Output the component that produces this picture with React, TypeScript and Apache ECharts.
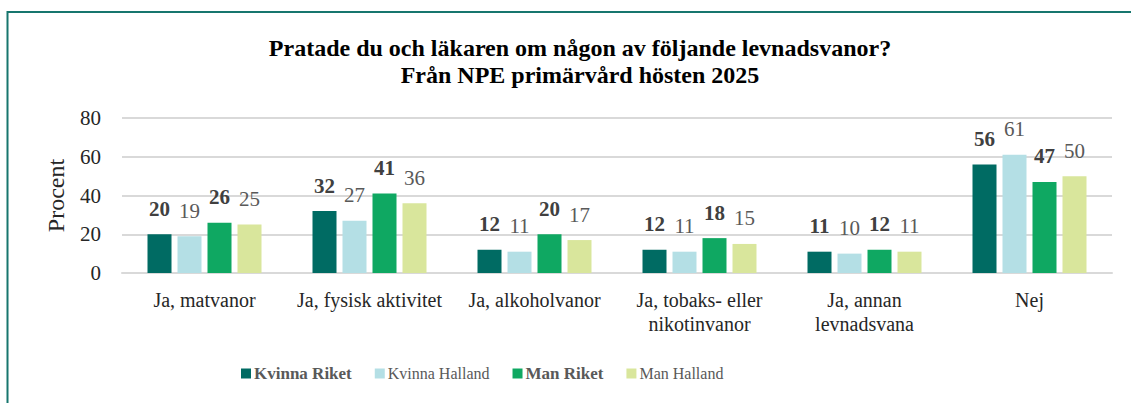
import React, { useEffect, useRef } from "react";
import * as echarts from "echarts";

const categories = [
  "Ja, matvanor",
  "Ja, fysisk aktivitet",
  "Ja, alkoholvanor",
  "Ja, tobaks- eller\nnikotinvanor",
  "Ja, annan\nlevnadsvana",
  "Nej",
];
const kvinnaRiket = [20, 32, 12, 12, 11, 56];
const kvinnaHalland = [19, 27, 11, 11, 10, 61];
const manRiket = [26, 41, 20, 18, 12, 47];
const manHalland = [25, 36, 17, 15, 11, 50];
const yTicks = { min: 0, max: 80, interval: 20 };

const FONT = "Liberation Serif";

export default function App() {
  const ref = useRef<HTMLDivElement>(null);
  useEffect(() => {
    if (!ref.current) return;
    const chart = echarts.init(ref.current, undefined, { renderer: "svg" });
    const mk = (name: string, data: number[], color: string, bold: boolean) => ({
      name,
      type: "bar",
      data,
      barWidth: 24,
      barGap: "25%",
      itemStyle: { color },
      label: {
        show: true,
        position: "top",
        distance: 15,
        fontFamily: FONT,
        fontSize: 21,
        fontWeight: bold ? "bold" : "normal",
        color: bold ? "#404040" : "#595959",
      },
    });
    chart.setOption({
      animation: false,
      textStyle: { fontFamily: FONT },
      title: {
        text: "Pratade du och läkaren om någon av följande levnadsvanor?\nFrån NPE primärvård hösten 2025",
        left: 575,
        top: 29,
        textAlign: "center",
        textStyle: {
          fontFamily: FONT,
          fontSize: 24,
          fontWeight: "bold",
          color: "#000",
          lineHeight: 27,
        },
      },
      graphic: [
        {
          type: "rect",
          shape: { x: 7.5, y: 12, width: 1300, height: 600 },
          style: { fill: "none", stroke: "#17766e", lineWidth: 2 },
          silent: true,
        },
      ],
      legend: {
        left: 236,
        top: 360,
        icon: "rect",
        itemWidth: 10,
        itemHeight: 10,
        itemGap: 23,
        textStyle: { fontFamily: FONT, fontSize: 16, color: "#595959", padding: [0, 0, 0, -2] },
        data: [
          { name: "Kvinna Riket", textStyle: { fontWeight: "bold", fontSize: 17 } },
          { name: "Kvinna Halland" },
          { name: "Man Riket", textStyle: { fontWeight: "bold", fontSize: 17 } },
          { name: "Man Halland" },
        ],
      },
      grid: { left: 122, right: 19, top: 118, bottom: 130 },
      xAxis: {
        type: "category",
        data: categories,
        axisLine: { lineStyle: { color: "#d9d9d9", width: 2 } },
        axisTick: { show: false },
        axisLabel: {
          fontFamily: FONT,
          fontSize: 20,
          color: "#262626",
          margin: 15,
          lineHeight: 24,
          interval: 0,
        },
      },
      yAxis: {
        type: "value",
        min: yTicks.min,
        max: yTicks.max,
        interval: yTicks.interval,
        name: "Procent",
        nameLocation: "middle",
        nameGap: 54,
        nameTextStyle: { fontFamily: FONT, fontSize: 24, color: "#262626" },
        axisLine: { show: false },
        axisTick: { show: false },
        axisLabel: { fontFamily: FONT, fontSize: 21, color: "#262626", margin: 21 },
        splitLine: { lineStyle: { color: "#d9d9d9", width: 2 } },
      },
      series: [
        mk("Kvinna Riket", kvinnaRiket, "#006b63", true),
        mk("Kvinna Halland", kvinnaHalland, "#b4dfe5", false),
        mk("Man Riket", manRiket, "#0fa862", true),
        mk("Man Halland", manHalland, "#d9e69c", false),
      ],
    });
    return () => chart.dispose();
  }, []);
  return (
    <div
      ref={ref}
      style={{ position: "absolute", left: 0, top: 0, width: 1131, height: 403 }}
    />
  );
}
